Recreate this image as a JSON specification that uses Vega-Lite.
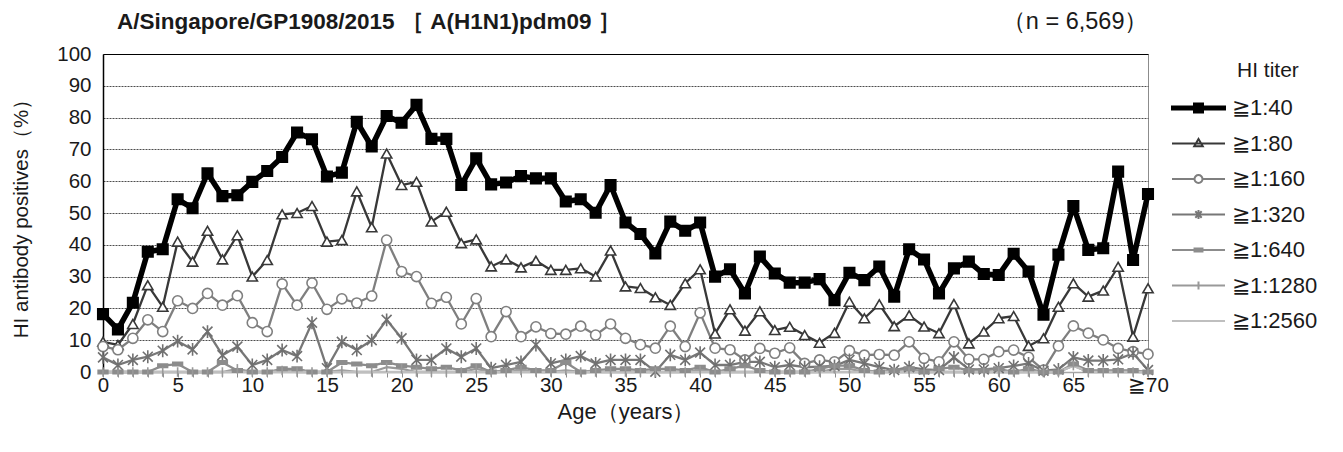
{
  "$schema": "https://vega.github.io/schema/vega-lite/v6.json",
  "width": 1045,
  "height": 318,
  "autosize": "none",
  "padding": {"left": 103, "top": 54, "right": 195, "bottom": 80},
  "background": "white",
  "title": {
    "text": "A/Singapore/GP1908/2015 ［ A(H1N1)pdm09 ］",
    "anchor": "start",
    "frame": "group",
    "dx": 14,
    "offset": -24,
    "font": "Liberation Sans",
    "fontSize": 22.5,
    "fontWeight": "bold",
    "color": "#1a1a1a"
  },
  "config": {
    "font": "Liberation Sans",
    "view": {"stroke": "#8c8c8c", "strokeWidth": 1},
    "legend": {"symbolLimit": 0}
  },
  "data": {
    "values": [
      {"age": 0, "a40": 18.2, "a80": 9.5, "a160": 8, "a320": 4.6, "a640": 0, "a1280": 0, "a2560": 0},
      {"age": 1, "a40": 13.4, "a80": 8.5, "a160": 7, "a320": 2.2, "a640": 0, "a1280": 0, "a2560": 0},
      {"age": 2, "a40": 21.8, "a80": 15.1, "a160": 10.6, "a320": 3.8, "a640": 0, "a1280": 0, "a2560": 0},
      {"age": 3, "a40": 37.8, "a80": 27.3, "a160": 16.4, "a320": 4.8, "a640": 0, "a1280": 0, "a2560": 0},
      {"age": 4, "a40": 38.6, "a80": 20.5, "a160": 12.7, "a320": 6.7, "a640": 2, "a1280": 0, "a2560": 0},
      {"age": 5, "a40": 54.3, "a80": 41, "a160": 22.4, "a320": 9.7, "a640": 2.5, "a1280": 0, "a2560": 0},
      {"age": 6, "a40": 51.5, "a80": 34.7, "a160": 20, "a320": 7.1, "a640": 0, "a1280": 0, "a2560": 0},
      {"age": 7, "a40": 62.5, "a80": 44.4, "a160": 24.7, "a320": 12.7, "a640": 0, "a1280": 0, "a2560": 0},
      {"age": 8, "a40": 55.3, "a80": 35.4, "a160": 21, "a320": 5.3, "a640": 3, "a1280": 0, "a2560": 0},
      {"age": 9, "a40": 55.6, "a80": 43, "a160": 24, "a320": 8, "a640": 0.5, "a1280": 1, "a2560": 0},
      {"age": 10, "a40": 59.8, "a80": 30, "a160": 15.5, "a320": 2.2, "a640": 0, "a1280": 0, "a2560": 0},
      {"age": 11, "a40": 63.2, "a80": 35.2, "a160": 12.7, "a320": 3.8, "a640": 0, "a1280": 0, "a2560": 0},
      {"age": 12, "a40": 67.6, "a80": 49.6, "a160": 27.7, "a320": 6.9, "a640": 1, "a1280": 0.5, "a2560": 0},
      {"age": 13, "a40": 75.3, "a80": 50, "a160": 21, "a320": 5, "a640": 1, "a1280": 0, "a2560": 0},
      {"age": 14, "a40": 73.2, "a80": 52.2, "a160": 28, "a320": 15.5, "a640": 0, "a1280": 0, "a2560": 0},
      {"age": 15, "a40": 61.5, "a80": 41, "a160": 19.7, "a320": 1.2, "a640": 0, "a1280": 0, "a2560": 0},
      {"age": 16, "a40": 62.7, "a80": 41.5, "a160": 23, "a320": 9.5, "a640": 3, "a1280": 0.5, "a2560": 0},
      {"age": 17, "a40": 78.7, "a80": 56.8, "a160": 21.7, "a320": 6.9, "a640": 2.5, "a1280": 0, "a2560": 0},
      {"age": 18, "a40": 70.9, "a80": 45.5, "a160": 23.9, "a320": 10, "a640": 2, "a1280": 0, "a2560": 0},
      {"age": 19, "a40": 80.5, "a80": 68.7, "a160": 41.5, "a320": 16.4, "a640": 3, "a1280": 1.5, "a2560": 0},
      {"age": 20, "a40": 78.4, "a80": 58.8, "a160": 31.6, "a320": 10.6, "a640": 2, "a1280": 1, "a2560": 0},
      {"age": 21, "a40": 84, "a80": 59.8, "a160": 30, "a320": 3.8, "a640": 1.5, "a1280": 0, "a2560": 0},
      {"age": 22, "a40": 73.3, "a80": 47.3, "a160": 21.6, "a320": 3.8, "a640": 1, "a1280": 0, "a2560": 0},
      {"age": 23, "a40": 73.3, "a80": 50.4, "a160": 23.5, "a320": 7.4, "a640": 1.5, "a1280": 0, "a2560": 0},
      {"age": 24, "a40": 58.8, "a80": 40.5, "a160": 15.1, "a320": 4.8, "a640": 0.5, "a1280": 0, "a2560": 0},
      {"age": 25, "a40": 67.2, "a80": 41.7, "a160": 23.1, "a320": 7.4, "a640": 2, "a1280": 1, "a2560": 0},
      {"age": 26, "a40": 59, "a80": 33.2, "a160": 11.1, "a320": 1.2, "a640": 0, "a1280": 0, "a2560": 0},
      {"age": 27, "a40": 59.6, "a80": 35.4, "a160": 19, "a320": 2.2, "a640": 0.5, "a1280": 0, "a2560": 0},
      {"age": 28, "a40": 61.6, "a80": 32.9, "a160": 11.1, "a320": 3.2, "a640": 1.5, "a1280": 0.5, "a2560": 0},
      {"age": 29, "a40": 60.9, "a80": 35, "a160": 14.2, "a320": 8.5, "a640": 0.5, "a1280": 0, "a2560": 0},
      {"age": 30, "a40": 60.9, "a80": 32.1, "a160": 12.1, "a320": 2.7, "a640": 0.5, "a1280": 0, "a2560": 0},
      {"age": 31, "a40": 53.6, "a80": 32.1, "a160": 11.9, "a320": 3.8, "a640": 3, "a1280": 0.5, "a2560": 0},
      {"age": 32, "a40": 54.3, "a80": 32.6, "a160": 14.4, "a320": 5, "a640": 0, "a1280": 0, "a2560": 0},
      {"age": 33, "a40": 50.1, "a80": 30, "a160": 11.6, "a320": 2.7, "a640": 0.5, "a1280": 0, "a2560": 0},
      {"age": 34, "a40": 58.8, "a80": 38.2, "a160": 15.1, "a320": 3.8, "a640": 1, "a1280": 0, "a2560": 0},
      {"age": 35, "a40": 47, "a80": 26.9, "a160": 10.6, "a320": 3.8, "a640": 1, "a1280": 0, "a2560": 0},
      {"age": 36, "a40": 43.4, "a80": 26.4, "a160": 8.6, "a320": 3.8, "a640": 0.5, "a1280": 0, "a2560": 0},
      {"age": 37, "a40": 37.3, "a80": 23.5, "a160": 7.5, "a320": 0.1, "a640": 1, "a1280": 0, "a2560": 0},
      {"age": 38, "a40": 47.3, "a80": 21.1, "a160": 14.4, "a320": 5.4, "a640": 1, "a1280": 0, "a2560": 0},
      {"age": 39, "a40": 44.4, "a80": 27.9, "a160": 8, "a320": 3.8, "a640": 0.5, "a1280": 0, "a2560": 0},
      {"age": 40, "a40": 47, "a80": 32.3, "a160": 18.6, "a320": 6.1, "a640": 1.5, "a1280": 0.5, "a2560": 0},
      {"age": 41, "a40": 30, "a80": 12.1, "a160": 7.5, "a320": 2.2, "a640": 0, "a1280": 0, "a2560": 0},
      {"age": 42, "a40": 32.3, "a80": 19.7, "a160": 7, "a320": 2.2, "a640": 1, "a1280": 0, "a2560": 0},
      {"age": 43, "a40": 24.7, "a80": 13, "a160": 3.8, "a320": 3.2, "a640": 2, "a1280": 0, "a2560": 0},
      {"age": 44, "a40": 36.3, "a80": 19.1, "a160": 7.4, "a320": 3.2, "a640": 0.5, "a1280": 0, "a2560": 0},
      {"age": 45, "a40": 31, "a80": 13.2, "a160": 5.9, "a320": 1.5, "a640": 0, "a1280": 0, "a2560": 0},
      {"age": 46, "a40": 28.1, "a80": 14.2, "a160": 7.6, "a320": 2.2, "a640": 0, "a1280": 0, "a2560": 0},
      {"age": 47, "a40": 28.1, "a80": 11.6, "a160": 2.7, "a320": 1.5, "a640": 0, "a1280": 0, "a2560": 0},
      {"age": 48, "a40": 29.2, "a80": 9.2, "a160": 3.8, "a320": 1.7, "a640": 1, "a1280": 0, "a2560": 0},
      {"age": 49, "a40": 22.6, "a80": 12.3, "a160": 3.2, "a320": 1.9, "a640": 2, "a1280": 1, "a2560": 0},
      {"age": 50, "a40": 31.2, "a80": 22.1, "a160": 6.7, "a320": 3.8, "a640": 2, "a1280": 1, "a2560": 0},
      {"age": 51, "a40": 28.9, "a80": 16.9, "a160": 5.3, "a320": 2.7, "a640": 0.5, "a1280": 0, "a2560": 0},
      {"age": 52, "a40": 33.2, "a80": 21.3, "a160": 5.5, "a320": 1.5, "a640": 0, "a1280": 0, "a2560": 0},
      {"age": 53, "a40": 23.7, "a80": 14.4, "a160": 5.3, "a320": 0.6, "a640": 0.5, "a1280": 0, "a2560": 0},
      {"age": 54, "a40": 38.6, "a80": 17.8, "a160": 9.5, "a320": 1.5, "a640": 1, "a1280": 0, "a2560": 0},
      {"age": 55, "a40": 35.4, "a80": 14.3, "a160": 4.3, "a320": 0.8, "a640": 0, "a1280": 0, "a2560": 0},
      {"age": 56, "a40": 24.7, "a80": 12.2, "a160": 3.2, "a320": 0.6, "a640": 1, "a1280": 0, "a2560": 0},
      {"age": 57, "a40": 32.6, "a80": 21.4, "a160": 9.5, "a320": 4.6, "a640": 1.5, "a1280": 0, "a2560": 0},
      {"age": 58, "a40": 34.7, "a80": 9, "a160": 4, "a320": 0.8, "a640": 0.5, "a1280": 0, "a2560": 0},
      {"age": 59, "a40": 30.8, "a80": 12.7, "a160": 4, "a320": 0.8, "a640": 0.5, "a1280": 0, "a2560": 0},
      {"age": 60, "a40": 30.5, "a80": 16.9, "a160": 6.4, "a320": 1.2, "a640": 1, "a1280": 0, "a2560": 0},
      {"age": 61, "a40": 37.2, "a80": 17.6, "a160": 6.9, "a320": 1.9, "a640": 0, "a1280": 0, "a2560": 0},
      {"age": 62, "a40": 31.6, "a80": 8.2, "a160": 4.6, "a320": 2.7, "a640": 1, "a1280": 0, "a2560": 0},
      {"age": 63, "a40": 18, "a80": 10.6, "a160": 0.6, "a320": 0.4, "a640": 0, "a1280": 0, "a2560": 0},
      {"age": 64, "a40": 36.9, "a80": 20.5, "a160": 8.2, "a320": 0.8, "a640": 0, "a1280": 0, "a2560": 0},
      {"age": 65, "a40": 52.2, "a80": 27.9, "a160": 14.5, "a320": 4.6, "a640": 2.5, "a1280": 2, "a2560": 2},
      {"age": 66, "a40": 38.4, "a80": 23.7, "a160": 12.2, "a320": 3.6, "a640": 0.5, "a1280": 0, "a2560": 0},
      {"age": 67, "a40": 38.9, "a80": 25.6, "a160": 10.1, "a320": 3.6, "a640": 0.5, "a1280": 0, "a2560": 0},
      {"age": 68, "a40": 63, "a80": 33.1, "a160": 7.4, "a320": 4, "a640": 0.5, "a1280": 0, "a2560": 0},
      {"age": 69, "a40": 35.2, "a80": 11.1, "a160": 6.4, "a320": 5.9, "a640": 0.5, "a1280": 0, "a2560": 0},
      {"age": 70, "a40": 56, "a80": 26.3, "a160": 5.6, "a320": 0.6, "a640": 0, "a1280": 0, "a2560": 0}
    ]
  },
  "transform": [
    {"fold": ["a40", "a80", "a160", "a320", "a640", "a1280", "a2560"], "as": ["titer", "value"]}
  ],
  "encoding": {
    "x": {
      "field": "age",
      "type": "quantitative",
      "scale": {"domain": [0, 70], "nice": false, "zero": false},
      "axis": {
        "values": [0,1,2,3,4,5,6,7,8,9,10,11,12,13,14,15,16,17,18,19,20,21,22,23,24,25,26,27,28,29,30,31,32,33,34,35,36,37,38,39,40,41,42,43,44,45,46,47,48,49,50,51,52,53,54,55,56,57,58,59,60,61,62,63,64,65,66,67,68,69,70],
        "labelExpr": "datum.value % 5 == 0 ? (datum.value == 70 ? '≧70' : datum.label) : ''",
        "title": "Age（years）",
        "grid": false,
        "tickSize": 5,
        "tickColor": "#8c8c8c",
        "domainColor": "#a6a6a6",
        "domainWidth": 1.5,
        "labelFontSize": 20.5,
        "labelColor": "#1a1a1a",
        "labelPadding": -2,
        "labelFlush": false,
        "labelOverlap": false,
        "titleFontSize": 22,
        "titleFontWeight": "normal",
        "titleColor": "#1a1a1a",
        "titlePadding": 6
      }
    },
    "y": {
      "field": "value",
      "type": "quantitative",
      "scale": {"domain": [0, 100], "nice": false},
      "axis": {
        "values": [0, 10, 20, 30, 40, 50, 60, 70, 80, 90, 100],
        "title": "HI antibody positives（%）",
        "ticks": false,
        "domainColor": "#000000",
        "domainWidth": 1.5,
        "gridColor": {"condition": {"test": "datum.value == 100", "value": "#000000"}, "value": "#4d4d4d"},
        "gridDash": {"condition": {"test": "datum.value == 100", "value": []}, "value": [2, 1]},
        "gridWidth": 1,
        "labelFontSize": 20.5,
        "labelColor": "#1a1a1a",
        "labelPadding": 12,
        "titleFontSize": 20.5,
        "titleFontWeight": "normal",
        "titleColor": "#1a1a1a",
        "titlePadding": 25
      }
    }
  },
  "layer": [
    {
      "transform": [{"filter": "datum.titer == 'a40'"}],
      "mark": {"type": "line", "strokeWidth": 5.5, "strokeJoin": "round", "strokeCap": "round"},
      "encoding": {
        "color": {
          "field": "titer",
          "type": "nominal",
          "scale": {
            "domain": ["a40", "a80", "a160", "a320", "a640", "a1280", "a2560"],
            "range": ["#000000", "#383838", "#7f7f7f", "#777777", "#8c8c8c", "#999999", "#bfbfbf"]
          },
          "legend": {
            "title": "HI titer",
            "orient": "right",
            "offset": 14,
            "padding": 6,
            "titleFontSize": 21,
            "titleFontWeight": "normal",
            "titleColor": "#1a1a1a",
            "titlePadding": 16,
            "labelFontSize": 22,
            "labelColor": "#1a1a1a",
            "labelOffset": 6,
            "rowPadding": 13.5,
            "clipHeight": 22,
            "symbolSize": 2809,
            "symbolStrokeWidth": 2,
            "labelExpr": "'≧1:' + slice(datum.label, 1)",
            "encode": {
              "title": {"update": {"dx": {"value": 66}}},
              "symbols": {
                "update": {
                  "shape": {"signal": "datum.value == 'a40' ? 'M-1,-0.06H1V0.06H-1ZM-0.17,-0.17H0.17V0.17H-0.17Z' : datum.value == 'a80' ? 'M-1,0H1M0,-0.17L0.16,0.1L-0.16,0.1Z' : datum.value == 'a160' ? 'M-1,0H-0.15M0.15,0H1M0.15,0A0.15,0.15,0,1,1,-0.15,0A0.15,0.15,0,1,1,0.15,0' : datum.value == 'a320' ? 'M-1,0H1M-0.12,-0.12L0.12,0.12M-0.12,0.12L0.12,-0.12M0,-0.17V0.17' : datum.value == 'a640' ? 'M-1,0H1M-0.15,-0.06H0.15V0.06H-0.15Z' : datum.value == 'a1280' ? 'M-1,0H1M0,-0.15V0.15' : 'M-1,0H1'"},
                  "fill": {"signal": "datum.value == 'a40' ? '#000000' : datum.value == 'a640' ? '#8c8c8c' : (datum.value == 'a80' || datum.value == 'a160') ? '#ffffff' : 'transparent'"}
                }
              }
            }
          }
        }
      }
    },
    {
      "transform": [{"filter": "datum.titer != 'a40'"}],
      "mark": {"type": "line", "strokeWidth": 2.3, "strokeJoin": "round", "strokeCap": "round"},
      "encoding": {
        "x": {"field": "age", "type": "quantitative", "axis": null},
        "color": {"field": "titer", "type": "nominal"}
      }
    },
    {
      "transform": [{"filter": "datum.titer != 'a2560'"}],
      "mark": {"type": "point", "opacity": 1, "strokeWidth": 1.6},
      "encoding": {
        "x": {
          "field": "age",
          "type": "quantitative",
          "axis": {
            "orient": "top",
            "title": "（n = 6,569）",
            "labels": false,
            "ticks": false,
            "domain": false,
            "grid": false,
            "titleAnchor": "end",
            "titleFontSize": 23.5,
            "titleFontWeight": "normal",
            "titleColor": "#1a1a1a",
            "titlePadding": 21
          }
        },
        "shape": {
          "field": "titer",
          "type": "nominal",
          "scale": {
            "domain": ["a40", "a80", "a160", "a320", "a640", "a1280"],
            "range": ["square", "triangle-up", "circle", "M-1,-1L1,1M-1,1L1,-1M0,-1.3V1.3", "M-1,-0.35H1V0.35H-1Z", "M0,-1V1"]
          },
          "legend": null
        },
        "fill": {
          "field": "titer",
          "type": "nominal",
          "scale": {
            "domain": ["a40", "a80", "a160", "a320", "a640", "a1280"],
            "range": ["#000000", "#ffffff", "#ffffff", "transparent", "#8c8c8c", "transparent"]
          },
          "legend": null
        },
        "stroke": {
          "field": "titer",
          "type": "nominal",
          "scale": {
            "domain": ["a40", "a80", "a160", "a320", "a640", "a1280"],
            "range": ["#000000", "#383838", "#7f7f7f", "#707070", "#8c8c8c", "#999999"]
          },
          "legend": null
        },
        "size": {
          "field": "titer",
          "type": "nominal",
          "scale": {
            "domain": ["a40", "a80", "a160", "a320", "a640", "a1280"],
            "range": [110, 90, 95, 90, 55, 50]
          },
          "legend": null
        }
      }
    }
  ],
  "resolve": {
    "axis": {"x": "independent"}
  }
}
